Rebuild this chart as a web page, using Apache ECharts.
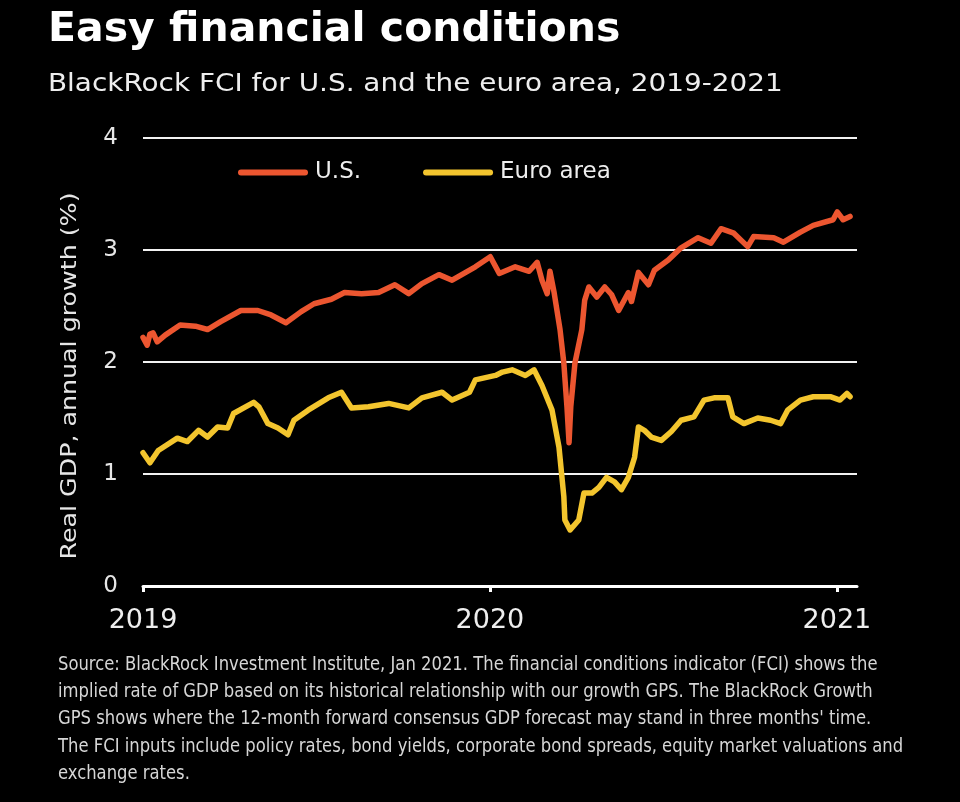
<!DOCTYPE html>
<html>
<head>
<meta charset="utf-8">
<style>
  html, body { margin: 0; padding: 0; background: #000; }
  #chart { width: 960px; height: 802px; }
</style>
<script src="https://cdn.jsdelivr.net/npm/echarts@6/dist/echarts.min.js"></script>
</head>
<body>
<div id="chart"></div>
<script>
// ---- Data (x = decimal year, y = % growth) ----
const usX = [2019.000, 2019.012, 2019.020, 2019.029, 2019.041, 2019.064, 2019.107, 2019.151, 2019.186, 2019.224,
  2019.282, 2019.331, 2019.369, 2019.412, 2019.456, 2019.493, 2019.543, 2019.581, 2019.630, 2019.679,
  2019.726, 2019.766, 2019.804, 2019.853, 2019.891, 2019.958, 2020.001, 2020.027, 2020.073, 2020.113,
  2020.136, 2020.150, 2020.165, 2020.173, 2020.185, 2020.202, 2020.213, 2020.222, 2020.228, 2020.233,
  2020.245, 2020.265, 2020.273, 2020.285, 2020.308, 2020.331, 2020.351, 2020.371, 2020.399, 2020.408,
  2020.428, 2020.457, 2020.474, 2020.514, 2020.551, 2020.600, 2020.637, 2020.666, 2020.703, 2020.743,
  2020.760, 2020.818, 2020.846, 2020.895, 2020.932, 2020.989, 2021.001, 2021.018, 2021.038];
const usY = [2.22, 2.15, 2.25, 2.26, 2.18, 2.24, 2.33, 2.32, 2.29, 2.36,
  2.46, 2.46, 2.42, 2.35, 2.45, 2.52, 2.56, 2.62, 2.61, 2.62,
  2.69, 2.61, 2.70, 2.78, 2.73, 2.85, 2.94, 2.79, 2.85, 2.81,
  2.89, 2.73, 2.61, 2.81, 2.62, 2.29, 1.99, 1.60, 1.28, 1.60,
  1.99, 2.29, 2.55, 2.67, 2.58, 2.67, 2.60, 2.46, 2.62, 2.54,
  2.80, 2.69, 2.82, 2.91, 3.02, 3.11, 3.06, 3.19, 3.15, 3.03,
  3.12, 3.11, 3.07, 3.16, 3.22, 3.27, 3.34, 3.27, 3.30];

const euX = [2019.000, 2019.020, 2019.044, 2019.099, 2019.128, 2019.160, 2019.186, 2019.215, 2019.244, 2019.261,
  2019.319, 2019.334, 2019.360, 2019.389, 2019.418, 2019.435, 2019.476, 2019.534, 2019.572, 2019.601,
  2019.650, 2019.708, 2019.766, 2019.804, 2019.862, 2019.891, 2019.941, 2019.958, 2020.016, 2020.036,
  2020.064, 2020.102, 2020.127, 2020.150, 2020.179, 2020.199, 2020.213, 2020.216, 2020.231, 2020.256,
  2020.271, 2020.294, 2020.314, 2020.336, 2020.359, 2020.379, 2020.399, 2020.417, 2020.428, 2020.445,
  2020.465, 2020.494, 2020.523, 2020.551, 2020.588, 2020.617, 2020.646, 2020.686, 2020.700, 2020.732,
  2020.772, 2020.809, 2020.838, 2020.858, 2020.895, 2020.932, 2020.981, 2021.009, 2021.029, 2021.038];
const euY = [1.19, 1.10, 1.21, 1.32, 1.29, 1.39, 1.33, 1.42, 1.41, 1.54,
  1.64, 1.60, 1.45, 1.41, 1.35, 1.48, 1.57, 1.68, 1.73, 1.59,
  1.60, 1.63, 1.59, 1.68, 1.73, 1.66, 1.73, 1.84, 1.88, 1.91,
  1.93, 1.88, 1.93, 1.79, 1.57, 1.24, 0.80, 0.59, 0.50, 0.59,
  0.83, 0.83, 0.88, 0.97, 0.93, 0.86, 0.97, 1.15, 1.42, 1.39,
  1.33, 1.30, 1.38, 1.48, 1.51, 1.66, 1.68, 1.68, 1.51, 1.45,
  1.50, 1.48, 1.45, 1.57, 1.66, 1.69, 1.69, 1.66, 1.72, 1.69];

const seriesNames = ['U.S.', 'Euro area'];
const xTickYears = [2019, 2020, 2021];
const yTicks = [0, 1, 2, 3, 4];

const titleText = 'Easy financial conditions';
const subtitleText = 'BlackRock FCI for U.S. and the euro area, 2019-2021';
const yAxisName = 'Real GDP, annual growth (%)';
const footnoteLines = [
  'Source: BlackRock Investment Institute, Jan 2021. The financial conditions indicator (FCI) shows the',
  'implied rate of GDP based on its historical relationship with our growth GPS. The BlackRock Growth',
  "GPS shows where the 12-month forward consensus GDP forecast may stand in three months' time.",
  'The FCI inputs include policy rates, bond yields, corporate bond spreads, equity market valuations and',
  'exchange rates.'
];

// ---- Chart ----
const US_COLOR = '#EC5630';
const EU_COLOR = '#F3C52E';
const zip = (xs, ys) => xs.map((x, i) => [x, ys[i]]);

const chart = echarts.init(document.getElementById('chart'), null, { renderer: 'canvas' });

const graphics = [
  { type: 'text', left: 48, top: 10, style: { text: titleText, fill: '#ffffff',
      font: 'bold 41px "DejaVu Sans", sans-serif' } },
  { type: 'text', x: 48, y: 84, scaleX: 1.115,
    style: { text: subtitleText, fill: '#eeeeee', font: '25px "DejaVu Sans", sans-serif',
      align: 'left', verticalAlign: 'middle' } },
  { type: 'text', x: 70, y: 376, rotation: Math.PI / 2, scaleX: 1.15,
    style: { text: yAxisName, fill: '#e6e6e6', font: '22px "DejaVu Sans", sans-serif',
      align: 'center', verticalAlign: 'middle' } }
];
footnoteLines.forEach((line, i) => {
  graphics.push({ type: 'text', x: 58, y: 665 + i * 27.2, scaleX: 0.96,
    style: { text: line, fill: '#d6d6d6', font: '19px "Liberation Sans Narrow", "DejaVu Sans Condensed", sans-serif',
      align: 'left', verticalAlign: 'middle' } });
});

const legendIcon = 'path://M3,0 L67,0 A3,3 0 0 1 67,6 L3,6 A3,3 0 0 1 3,0 Z';

chart.setOption({
  backgroundColor: '#000000',
  animation: false,
  grid: { left: 143, right: 103, top: 138, bottom: 802 - 586, containLabel: false },
  legend: {
    data: seriesNames,
    left: 233, top: 156,
    icon: legendIcon,
    itemWidth: 70, itemHeight: 6, itemGap: 62,
    textStyle: { color: '#eeeeee', fontSize: 23, fontFamily: '"DejaVu Sans", sans-serif', padding: [0, 0, 0, 2] }
  },
  xAxis: {
    type: 'value',
    min: 2019, max: 2021.058,
    axisLine: { show: true, lineStyle: { color: '#ffffff', width: 3 } },
    axisTick: { show: true, customValues: xTickYears, length: 6, inside: false,
      lineStyle: { color: '#ffffff', width: 3 } },
    axisLabel: { customValues: xTickYears, color: '#eeeeee', fontSize: 27, margin: 21,
      fontFamily: '"DejaVu Sans", sans-serif', formatter: v => String(Math.round(v)) },
    splitLine: { show: false }
  },
  yAxis: {
    type: 'value', min: 0, max: 4, interval: 1,
    axisLine: { show: false }, axisTick: { show: false },
    axisLabel: { color: '#e6e6e6', fontSize: 23, margin: 25,
      fontFamily: '"DejaVu Sans", sans-serif' },
    splitLine: { show: true, lineStyle: { color: '#f2f2f2', width: 2 } }
  },
  series: [
    { name: seriesNames[0], type: 'line', data: zip(usX, usY), showSymbol: false, symbol: 'none',
      lineStyle: { color: US_COLOR, width: 5.5, join: 'round', cap: 'round' }, itemStyle: { color: US_COLOR }, z: 3 },
    { name: seriesNames[1], type: 'line', data: zip(euX, euY), showSymbol: false, symbol: 'none',
      lineStyle: { color: EU_COLOR, width: 5.5, join: 'round', cap: 'round' }, itemStyle: { color: EU_COLOR }, z: 2 }
  ],
  graphic: graphics
});
</script>
</body>
</html>
